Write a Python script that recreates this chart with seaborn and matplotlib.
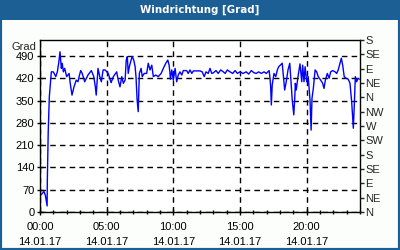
import matplotlib
matplotlib.use("Agg")
import matplotlib.pyplot as plt
import seaborn as sns
import pandas as pd
from matplotlib.patches import Rectangle

sns.set_style("ticks")
plt.rcParams['font.family'] = ['Liberation Sans', 'DejaVu Sans']

title = "Windrichtung [Grad]"
y_label = "Grad"
minutes = [3, 18, 24, 32, 33, 37, 42, 48, 51, 60, 71, 78, 84, 90, 96, 100, 105, 111, 120, 131,
           136, 144, 153, 163, 171, 176, 183, 190, 201, 216, 231, 242, 249, 253, 261, 269, 276, 284,
           293, 307, 320, 330, 345, 352, 360, 368, 375, 383, 388, 393, 397, 402, 410, 415, 422, 428,
           432, 437, 442, 447, 455, 460, 469, 480, 487, 495, 503, 510, 521, 532, 545, 555, 566, 575,
           581, 585, 587, 593, 600, 608, 615, 622, 630, 638, 645, 660, 667, 675, 683, 690, 705, 720,
           730, 739, 747, 757, 765, 773, 780, 792, 802, 813, 825, 833, 843, 855, 867, 878, 888, 900,
           913, 928, 939, 951, 963, 973, 984, 996, 1008, 1018, 1031, 1035, 1038, 1041, 1045, 1053,
           1061, 1068, 1074, 1081, 1090, 1094, 1101, 1108, 1116, 1124, 1128, 1135, 1142, 1146, 1149,
           1153, 1161, 1170, 1178, 1182, 1188, 1193, 1200, 1207, 1215, 1220, 1224, 1230, 1238, 1245,
           1252, 1263, 1272, 1278, 1284, 1293, 1301, 1308, 1317, 1328, 1335, 1342, 1350, 1356, 1362,
           1369, 1377, 1387, 1395, 1403, 1407, 1410, 1414, 1419, 1425, 1431, 1437]
degrees = [53, 64, 53, 19, 100, 252, 362, 414, 440, 440, 425, 440, 467, 503, 451, 467, 440, 451, 425, 435,
           404, 367, 393, 414, 409, 425, 444, 435, 409, 430, 444, 425, 393, 367, 451, 425, 409, 446,
           446, 435, 406, 425, 440, 414, 393, 425, 404, 414, 477, 488, 435, 456, 477, 488, 477, 456,
           425, 352, 315, 435, 451, 425, 435, 435, 467, 446, 461, 425, 430, 425, 435, 451, 467, 477,
           461, 435, 417, 446, 414, 451, 409, 430, 440, 430, 444, 444, 435, 446, 435, 443, 443, 443,
           440, 425, 440, 435, 451, 435, 437, 444, 435, 446, 440, 435, 446, 440, 435, 444, 435, 440,
           435, 440, 433, 444, 437, 435, 440, 435, 440, 435, 444, 420, 393, 336, 399, 435,
           425, 446, 456, 461, 467, 435, 383, 409, 446, 467, 425, 352, 305, 352, 404,
           383, 425, 465, 409, 461, 409, 456, 409, 425, 352, 257, 357, 388, 446, 440,
           425, 414, 404, 388, 414, 435, 420, 440, 444, 440, 435, 446, 467, 483, 461,
           425, 420, 417, 404, 341, 299, 263, 330, 425, 409, 420, 417]
left_ticks = [0, 70, 140, 210, 280, 350, 420, 490]
right_ticks = [0, 45, 90, 135, 180, 225, 270, 315, 360, 405, 450, 495, 540]
right_labels = ["N", "NE", "E", "SE", "S", "SW", "W", "NW", "N", "NE", "E", "SE", "S"]
x_ticks = [0, 5, 10, 15, 20]
x_labels = ["00:00\n14.01.17", "05:00\n14.01.17", "10:00\n14.01.17", "15:00\n14.01.17", "20:00\n14.01.17"]

df = pd.DataFrame({"hour": [m / 60 for m in minutes], "deg": degrees})

BLUE = "#1c5f94"
fig = plt.figure(figsize=(4, 2.5), dpi=100, facecolor="#fbfefb")
# frame and title bar
fig.patches.append(Rectangle((0, 0), 1, 1, transform=fig.transFigure, fill=False,
                             edgecolor=BLUE, linewidth=3, zorder=0))
fig.patches.append(Rectangle((0, 0.92), 1, 0.08, transform=fig.transFigure,
                             facecolor=BLUE, edgecolor="none", zorder=1))
fig.text(0.5, 0.962, title, ha="center", va="center", color="white",
         fontsize=7.4, fontweight="bold", family=["DejaVu Sans"])

ax = fig.add_axes([0.1, 0.152, 0.8, 0.688])
ax.set_facecolor("white")
sns.lineplot(data=df, x="hour", y="deg", ax=ax, color="#0000ff", linewidth=1)
ax.set_xlim(0, 24)
ax.set_ylim(0, 540)
ax.set_xlabel("")
ax.set_ylabel("")
ax.set_yticks(left_ticks)
ax.set_xticks(x_ticks)
ax.set_xticklabels(x_labels, linespacing=1.65)
ax.set_xticks(range(0, 25), minor=True)
for s in ax.spines.values():
    s.set_color("black")
    s.set_linewidth(1)
ax.tick_params(axis="both", which="both", direction="inout", length=4, width=1,
               labelsize=8, colors="black", pad=2)
ax.tick_params(axis="x", which="both", pad=5)
ax.tick_params(axis="x", which="minor", length=3)
ax.grid(True, which="major", color="black", linestyle=(0, (4, 3)), linewidth=1)
ax.text(-0.012, 0.962, y_label, transform=ax.transAxes, ha="right", va="center",
        fontsize=8)

ax2 = ax.twinx()
ax2.set_ylim(0, 540)
ax2.set_yticks(right_ticks)
ax2.set_yticklabels(right_labels)
ax2.tick_params(axis="y", direction="out", length=3, width=1, labelsize=8, pad=1)
for s in ax2.spines.values():
    s.set_visible(False)

fig.savefig("out.png", dpi=100, facecolor=fig.get_facecolor())
